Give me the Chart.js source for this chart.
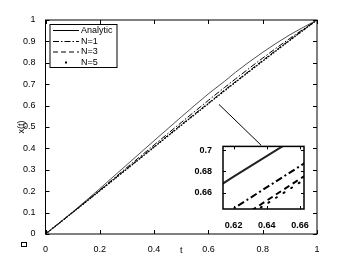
<!DOCTYPE html>
<html><head><meta charset="utf-8">
<script src="https://cdn.jsdelivr.net/npm/chart.js@4.4.0/dist/chart.umd.min.js"></script>
<style>
html,body{margin:0;padding:0;background:#fff;}
#wrap{position:relative;width:350px;height:264px;}
#main{position:absolute;left:0;top:0;}
#inset{position:absolute;left:180px;top:138px;}
</style></head>
<body><div id="wrap">
<canvas id="main" width="350" height="264"></canvas>
<canvas id="inset" width="135" height="90"></canvas>
</div>
<script>
// ---- data ----
const tValues   = [0, 0.1, 0.2, 0.3, 0.4, 0.5, 0.6, 0.62, 0.66, 0.7, 0.8, 0.9, 1];
const analytic  = [0, 0.103, 0.212, 0.324, 0.436, 0.547, 0.655, 0.675, 0.714, 0.756, 0.849, 0.931, 1.0];
const n1        = [0, 0.101, 0.205, 0.311, 0.416, 0.521, 0.6245, 0.645, 0.685, 0.725, 0.822, 0.914, 1.0];
const n3        = [0, 0.101, 0.203, 0.305, 0.408, 0.511, 0.612, 0.632, 0.673, 0.712, 0.811, 0.907, 1.0];
const n5        = [0, 0.1006, 0.202, 0.304, 0.406, 0.508, 0.609, 0.6295, 0.6696, 0.7096, 0.808, 0.905, 1.0];
const seriesLabels = ['Analytic', 'N=1', 'N=3', 'N=5'];
const xTicksMain = [0, 0.2, 0.4, 0.6, 0.8, 1];
const yTicksMain = [0, 0.1, 0.2, 0.3, 0.4, 0.5, 0.6, 0.7, 0.8, 0.9, 1];
const xTicksInset = [0.62, 0.64, 0.66];
const yTicksInset = [0.66, 0.68, 0.7];
const insetRangeX = [0.6136, 0.6624];
const insetRangeY = [0.6445, 0.7036];
const connectorX = [0.639, 0.7945];
const connectorY = [0.6055, 0.4145];

const FONT = '"Liberation Sans", Arial, Helvetica, sans-serif';
const pts = (xs, ys) => xs.map((x, i) => ({x: x, y: ys[i]}));

const dashStyles = [[], [6, 2, 1.5, 2], [5, 3], [1, 2.5]];

const boxTicks = {
  id: 'boxTicks',
  afterDraw(chart, args, opts) {
    const ctx = chart.ctx, a = chart.chartArea;
    const xs = chart.scales.x, ys = chart.scales.y;
    const L = opts.len || 4;
    ctx.save();
    ctx.strokeStyle = '#000';
    ctx.lineWidth = opts.tickWidth || 1;
    ctx.beginPath();
    xs.ticks.forEach(t => {
      const p = Math.round(xs.getPixelForValue(t.value)) + 0.5;
      ctx.moveTo(p, a.bottom); ctx.lineTo(p, a.bottom - L);
      ctx.moveTo(p, a.top); ctx.lineTo(p, a.top + L);
    });
    ys.ticks.forEach(t => {
      const p = Math.round(ys.getPixelForValue(t.value)) + 0.5;
      ctx.moveTo(a.left, p); ctx.lineTo(a.left + L, p);
      ctx.moveTo(a.right, p); ctx.lineTo(a.right - L, p);
    });
    ctx.stroke();
    ctx.lineWidth = opts.boxWidth || 1;
    ctx.strokeRect(a.left, a.top, a.right - a.left, a.bottom - a.top);
    ctx.restore();
  }
};

const whiteArea = {
  id: 'whiteArea',
  beforeDatasetsDraw(chart) {
    const ctx = chart.ctx, a = chart.chartArea;
    ctx.save(); ctx.fillStyle = '#fff';
    ctx.fillRect(a.left, a.top, a.right - a.left, a.bottom - a.top);
    ctx.restore();
  }
};

const matlabLegend = {
  id: 'matlabLegend',
  afterDraw(chart) {
    const ctx = chart.ctx, a = chart.chartArea;
    const x0 = a.left + 4.5, y0 = a.top + 4.5, w = 67, h = 43;
    ctx.save();
    ctx.fillStyle = '#fff';
    ctx.fillRect(x0, y0, w, h);
    ctx.strokeStyle = '#000'; ctx.lineWidth = 1;
    ctx.strokeRect(x0, y0, w, h);
    ctx.font = '9px ' + FONT;
    ctx.textBaseline = 'middle';
    ctx.fillStyle = '#000';
    const rows = [30, 41, 51.5, 62];
    seriesLabels.forEach((lab, i) => {
      const y = rows[i] + 0.5;
      ctx.setLineDash(dashStyles[i]);
      ctx.strokeStyle = '#000';
      if (i < 3) {
        ctx.beginPath(); ctx.moveTo(53, y); ctx.lineTo(79, y); ctx.stroke();
      } else {
        ctx.fillRect(65, y - 1, 2, 2);
      }
      ctx.setLineDash([]);
      ctx.fillText(lab, 81, y);
    });
    // small square marker at the lower left
    ctx.strokeStyle = '#000'; ctx.lineWidth = 1;
    ctx.strokeRect(21.5, 242.5, 5, 4);
    ctx.restore();
  }
};

function makeDatasets(widths) {
  const ys = [analytic, n1, n3, n5];
  return ys.map((arr, i) => ({
    label: seriesLabels[i],
    data: pts(tValues, arr),
    showLine: true,
    borderColor: i === 0 ? '#222' : '#000',
    borderWidth: widths[i],
    borderDash: dashStyles[i],
    borderCapStyle: i === 3 ? 'round' : 'butt',
    pointRadius: 0,
    fill: false,
    cubicInterpolationMode: 'monotone'
  }));
}

const mainSets = makeDatasets([0.8, 1, 1, 1.4]);
mainSets[3].borderDash = [0.5, 2.5];
mainSets.push({
  label: 'connector', data: pts(connectorX, connectorY), showLine: true,
  borderColor: '#000', borderWidth: 1, pointRadius: 0
});

new Chart(document.getElementById('main'), {
  type: 'scatter',
  data: { datasets: mainSets },
  options: {
    responsive: false, animation: false, devicePixelRatio: 1,
    layout: { padding: { top: 20, right: 33, left: 16, bottom: 0 } },
    plugins: { legend: { display: false }, tooltip: { enabled: false }, boxTicks: { len: 4 } },
    scales: {
      x: {
        type: 'linear', min: 0, max: 1,
        afterBuildTicks: s => { s.ticks = xTicksMain.map(v => ({ value: v })); },
        afterFit: s => { s.height = 30; },
        ticks: { color: '#000', font: { size: 9, family: FONT }, padding: 2, maxRotation: 0,
                 callback: v => String(v) },
        grid: { display: false },
        border: { display: false },
        title: { display: true, text: 't', color: '#000', font: { size: 9, family: FONT }, padding: { top: 0, bottom: 8 } }
      },
      y: {
        type: 'linear', min: 0, max: 1,
        afterBuildTicks: s => { s.ticks = yTicksMain.map(v => ({ value: v })); },
        afterFit: s => { s.width = 29.5; },
        ticks: { color: '#000', font: { size: 9, family: FONT }, padding: 2,
                 callback: v => String(v) },
        grid: { display: false },
        border: { display: false },
        title: { display: true, text: 'x(t)', color: '#000', font: { size: 9, family: FONT }, padding: { top: 0, bottom: 0 } }
      }
    }
  },
  plugins: [boxTicks, matlabLegend]
});

const insetSets = makeDatasets([2, 2, 2, 2]);
insetSets.forEach(d => { d.cubicInterpolationMode = 'default'; d.tension = 0; });
insetSets[1].borderDash = [7, 3, 2, 3];
insetSets[2].borderDash = [6, 4];
insetSets[3].borderDash = [1, 8];

new Chart(document.getElementById('inset'), {
  type: 'scatter',
  data: { datasets: insetSets },
  options: {
    responsive: false, animation: false, devicePixelRatio: 1,
    layout: { padding: { top: 6, right: 11, left: 0, bottom: 0 } },
    plugins: { legend: { display: false }, tooltip: { enabled: false }, boxTicks: { len: 3, boxWidth: 1.5 } },
    scales: {
      x: {
        type: 'linear', min: insetRangeX[0], max: insetRangeX[1],
        afterBuildTicks: s => { s.ticks = xTicksInset.map(v => ({ value: v })); },
        afterFit: s => { s.height = 19; },
        ticks: { color: '#000', font: { size: 9, family: FONT, weight: 'bold' }, padding: 3, maxRotation: 0,
                 callback: v => String(v) },
        grid: { display: false }, border: { display: false }
      },
      y: {
        type: 'linear', min: insetRangeY[0], max: insetRangeY[1],
        afterBuildTicks: s => { s.ticks = yTicksInset.map(v => ({ value: v })); },
        afterFit: s => { s.width = 43; },
        ticks: { color: '#000', font: { size: 9, family: FONT, weight: 'bold' }, padding: 3,
                 callback: v => String(v) },
        grid: { display: false }, border: { display: false }
      }
    }
  },
  plugins: [whiteArea, boxTicks]
});
</script>
</body></html>
